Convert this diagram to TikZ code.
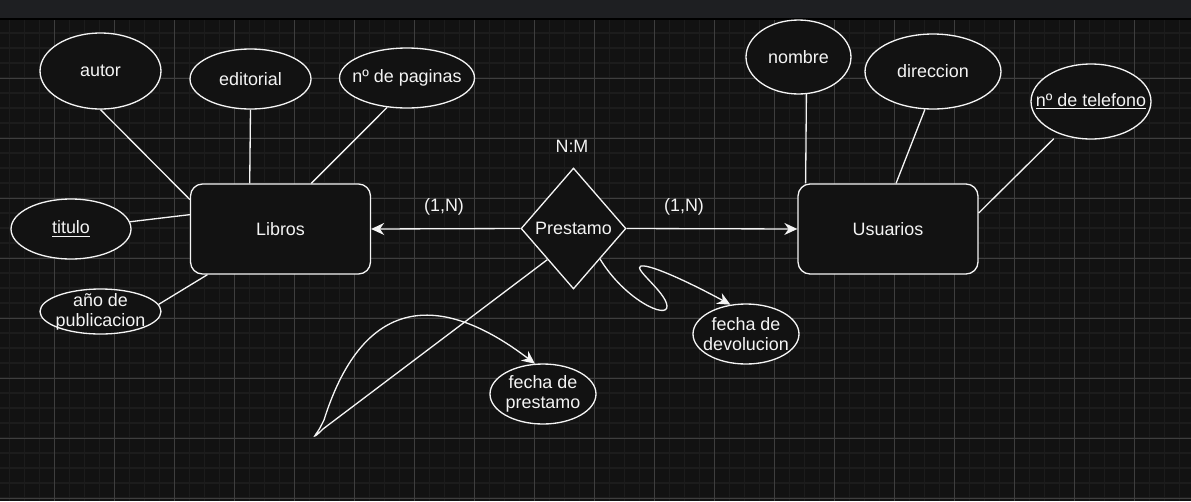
\documentclass[tikz,border=0pt]{standalone}
\usepackage{fontspec}
\setmainfont{Liberation Sans}
\usetikzlibrary{arrows.meta,shapes.geometric}
\definecolor{ErBack}{HTML}{121212}
\definecolor{ErBar}{HTML}{1E1F22}
\definecolor{ErGridMinor}{HTML}{1C1C1C}
\definecolor{ErGridMajor}{HTML}{3E3E3E}
\definecolor{ErInk}{HTML}{F4F4F4}

\begin{document}
\begin{tikzpicture}[
    x=0.02cm, y=-0.02cm,
    font=\fontsize{10.2}{11.3}\selectfont,
    every label/.style={text=ErInk, align=center},
    entity/.style={
        draw=ErInk,
        rounded corners=0.24cm,
        fill=ErBack,
        line width=0.75pt,
        minimum width=3.6cm,
        minimum height=1.8cm,
        text=ErInk
    },
    attribute/.style={ellipse, draw=ErInk, fill=ErBack, line width=0.75pt,
                      inner sep=0pt},
    relation/.style={diamond, draw=ErInk, fill=ErBack, line width=0.75pt,
                     inner sep=0pt, minimum width=2.1cm,
                     minimum height=2.42cm, text=ErInk},
    link/.style={draw=ErInk, line width=0.75pt},
    role/.style={-{Stealth[length=0.26cm,width=0.24cm]},
                 draw=ErInk, line width=0.75pt},
    card/.style={text=ErInk, inner sep=1pt}
]
    \useasboundingbox (0,0) rectangle (1191,501);
    \fill[ErBar] (0,0) rectangle (1191,19);
    \fill[ErBack] (0,19) rectangle (1191,501);

    % canvas grid
    \begin{scope}
        \clip (0,19) rectangle (1191,501);
        \foreach \x in {9.5,24.5,...,1191}
            \draw[ErGridMinor, line width=1.1pt] (\x,19) -- (\x,501);
        \foreach \y in {33,48,...,501}
            \draw[ErGridMinor, line width=1.1pt] (0,\y) -- (1191,\y);
        \foreach \x in {54.5,114.5,...,1191}
            \draw[ErGridMajor, line width=0.55pt] (\x,19) -- (\x,501);
        \foreach \y in {78,138,...,501}
            \draw[ErGridMajor, line width=0.55pt] (0,\y) -- (1191,\y);
    \end{scope}
    \draw[black, line width=0.6pt] (0,19) -- (1191,19);

    \node[entity] (libros) at (280.5,229) {Libros};
    \node[entity] (usuarios) at (888,229) {Usuarios};
    \node[relation] (prestamo) at (573.5,228.5) {Prestamo};

    \node[attribute, minimum width=2.42cm, minimum height=1.52cm,
          label=center:autor] (autor) at (100.5,71) {};
    \node[attribute, minimum width=2.42cm, minimum height=1.2cm,
          label=center:editorial] (editorial) at (250.5,79) {};
    \node[attribute, minimum width=2.7cm, minimum height=1.2cm,
          label=center:nº de paginas] (paginas) at (407,78) {};
    \node[attribute, minimum width=2.4cm, minimum height=1.2cm,
          label=center:\underline{titulo}] (titulo) at (71,229) {};
    \node[attribute, minimum width=2.42cm, minimum height=0.9cm,
          label={center:{año de\\publicacion}}] (anio) at (100.5,311.5) {};

    \node[attribute, minimum width=2.1cm, minimum height=1.48cm,
          label=center:nombre] (nombre) at (798.5,57) {};
    \node[attribute, minimum width=2.72cm, minimum height=1.5cm,
          label=center:direccion] (direccion) at (933,71.5) {};
    \node[attribute, minimum width=2.4cm, minimum height=1.5cm,
          label=center:\underline{nº de telefono}] (telefono)
        at (1091,101.5) {};

    \node[attribute, minimum width=2.12cm, minimum height=1.2cm,
          label={center:{fecha de\\prestamo}}] (fprestamo) at (543,394) {};
    \node[attribute, minimum width=2.12cm, minimum height=1.2cm,
          label={center:{fecha de\\devolucion}}] (fdevolucion)
        at (746,334) {};

    \node[card] (ratio) at (572,146) {N:M};
    \node[card] (cardL) at (444,207) {(1,N)};
    \node[card] (cardR) at (684,207) {(1,N)};

    \draw[link] (autor.south) -- (libros.162);
    \draw[link] (editorial.south) -- (libros.124);
    \draw[link] (paginas.236) -- (libros.56);
    \draw[link] (titulo.7) -- (libros.171);
    \draw[link] (anio.7) -- (libros.212);

    \draw[link] (nombre.-78) -- (usuarios.151);
    \draw[link] (direccion.258) -- (usuarios.80);
    \draw[link, shorten <=0.14cm] (telefono.225) -- (usuarios.10);

    \draw[role] (prestamo.west) -- (libros.east);
    \draw[role] (prestamo.east) -- (usuarios.west);

    \draw[role] (prestamo.230) -- (323,429)
        .. controls (316,436) and (313,438) .. (316,434)
        .. controls (319,430) and (320,428) .. (324,420)
        .. controls (365,290) and (445,295) .. (fprestamo.105);
    \draw[role] (prestamo.-49)
        .. controls (625,300) and (668,320) .. (667,306)
        .. controls (666,292) and (632,268) .. (641,266)
        .. controls (652,264) and (700,288) .. (fdevolucion.118);
\end{tikzpicture}
\end{document}
